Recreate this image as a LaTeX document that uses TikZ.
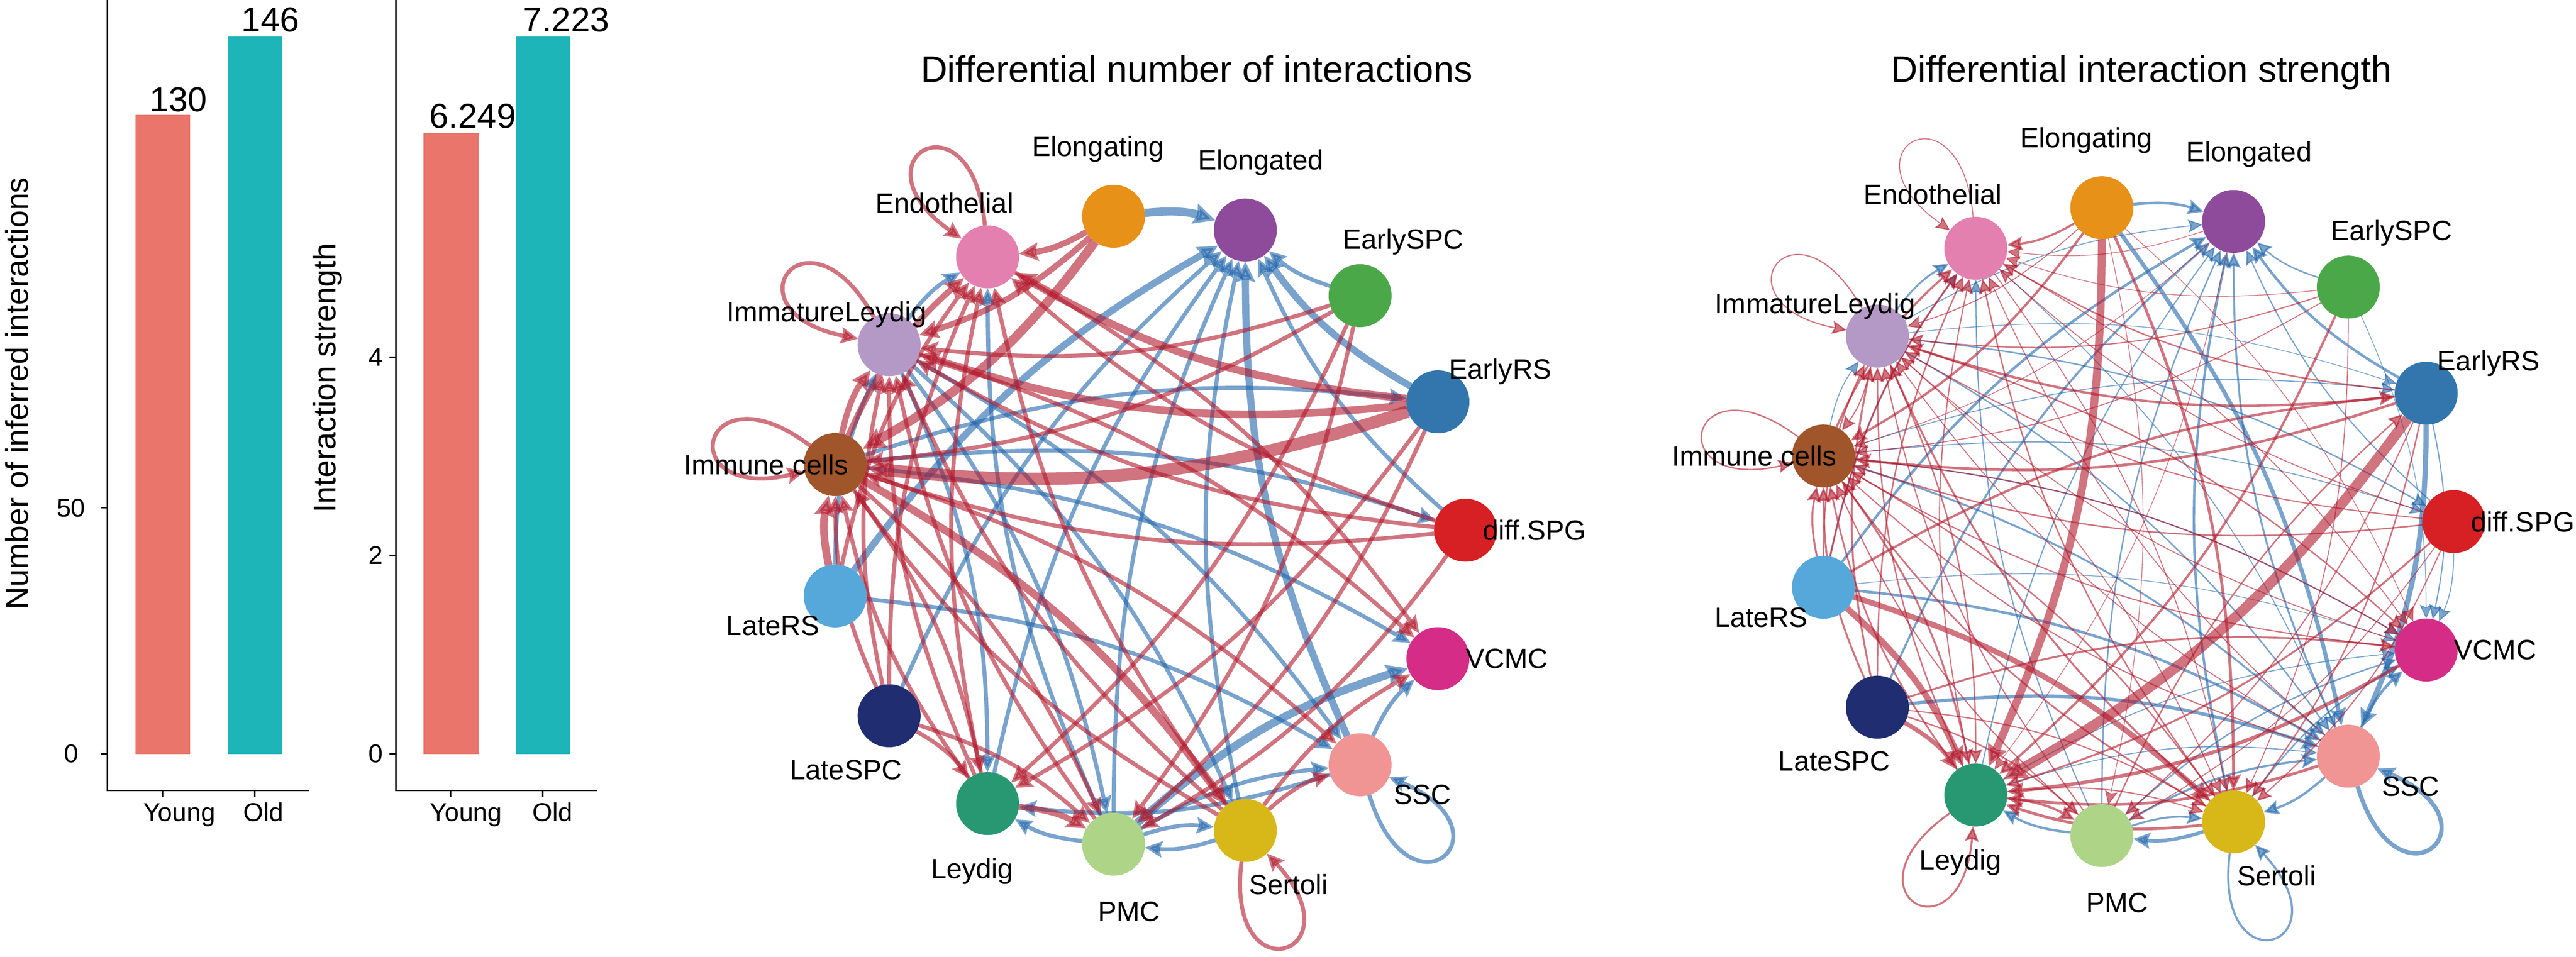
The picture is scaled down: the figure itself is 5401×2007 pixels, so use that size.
\documentclass[tikz,border=0pt]{standalone}
\usepackage{fontspec}
\setmainfont{Liberation Sans}
\usetikzlibrary{arrows.meta,calc}
\definecolor{cD}{HTML}{D72023}
\definecolor{cERS}{HTML}{3276AD}
\definecolor{cESPC}{HTML}{4BA848}
\definecolor{cEd}{HTML}{8F4B9B}
\definecolor{cEg}{HTML}{E89119}
\definecolor{cEn}{HTML}{E480AF}
\definecolor{cIL}{HTML}{B498C6}
\definecolor{cIm}{HTML}{A0552A}
\definecolor{cLRS}{HTML}{55A8D9}
\definecolor{cLSPC}{HTML}{202D70}
\definecolor{cLy}{HTML}{289873}
\definecolor{cPMC}{HTML}{AED488}
\definecolor{cSe}{HTML}{D8B819}
\definecolor{cSSC}{HTML}{F09494}
\definecolor{cVC}{HTML}{D52D87}
\definecolor{barY}{HTML}{EA756B}
\definecolor{barO}{HTML}{1EB5B9}
\definecolor{eR}{HTML}{B2182B}
\definecolor{eB}{HTML}{2166AC}
\pgfdeclarelayer{bg}
\pgfdeclarelayer{edges}
\pgfsetlayers{bg,edges,main}
\tikzset{
  vtx/.style={circle, draw=none, minimum size=26.4pt, inner sep=0pt, outer sep=0pt},
  lbl/.style={font=\fontsize{11.7}{14}\selectfont, inner sep=0pt},
  ttl/.style={font=\fontsize{15.5}{18}\selectfont, anchor=base, inner sep=0pt},
  ticklbl/.style={font=\fontsize{10.8}{13}\selectfont, inner sep=0pt},
  vallbl/.style={font=\fontsize{14.5}{17}\selectfont, inner sep=0pt, anchor=base},
  axttl/.style={font=\fontsize{13.2}{16}\selectfont, inner sep=0pt, rotate=90},
  axisline/.style={line width=0.55pt, black},
  tip/.style={-{Stealth[length=5.5pt 1, width=5pt 1, inset=1pt]}},
  redge/.style={draw=eR, opacity=0.6, bend left=12, tip},
  bedge/.style={draw=eB, opacity=0.6, bend left=12, tip},
  rloop/.style={draw=eR, opacity=0.6, tip},
  bloop/.style={draw=eB, opacity=0.6, tip}
}
\newcommand\redE[3]{\draw[redge, line width=#3pt] (#1) to (#2);}
\newcommand\bluE[3]{\draw[bedge, line width=#3pt] (#1) to (#2);}
\newcommand\redL[4]{\draw[rloop, line width=#2pt] (#1.#3) .. controls +(#3:290) and +(#4:290) .. (#1.#4);}
\newcommand\bluL[4]{\draw[bloop, line width=#2pt] (#1.#3) .. controls +(#3:290) and +(#4:290) .. (#1.#4);}
\begin{document}
\begin{tikzpicture}[x=0.2pt,y=0.2pt]
\useasboundingbox (0,0) rectangle (5401,2007);
\begin{pgfonlayer}{bg}
\fill[white] (0,0) rectangle (5401,2007);
\end{pgfonlayer}

% ---------------- bar chart 1 ----------------
\fill[barY] (284,426) rectangle (399,1766);
\fill[barO] (477,426) rectangle (592,1930);
\draw[axisline] (225,2007) -- (225,349) -- (648,349);
\draw[axisline] (212,426) -- (225,426);
\draw[axisline] (212,942) -- (225,942);
\draw[axisline] (341,349) -- (341,336);
\draw[axisline] (534,349) -- (534,336);
\node[ticklbl] (y10) at (149,426) {0};
\node[ticklbl] (y150) at (149,942) {50};
\node[ticklbl, anchor=base] (x1y) at (376,285) {Young};
\node[ticklbl, anchor=base] (x1o) at (552,285) {Old};
\node[vallbl] (v1y) at (374,1773) {130};
\node[vallbl] (v1o) at (567,1940) {146};
\node[axttl] (yt1) at (35,1182) {Number of inferred interactions};

% ---------------- bar chart 2 ----------------
\fill[barY] (888,426) rectangle (1004,1728);
\fill[barO] (1081,426) rectangle (1196,1930);
\draw[axisline] (830,2007) -- (830,349) -- (1252,349);
\draw[axisline] (817,426) -- (830,426);
\draw[axisline] (817,842) -- (830,842);
\draw[axisline] (817,1258) -- (830,1258);
\draw[axisline] (945,349) -- (945,336);
\draw[axisline] (1138,349) -- (1138,336);
\node[ticklbl] (y20) at (788,426) {0};
\node[ticklbl] (y22) at (788,842) {2};
\node[ticklbl] (y24) at (788,1258) {4};
\node[ticklbl, anchor=base] (x2y) at (977,285) {Young};
\node[ticklbl, anchor=base] (x2o) at (1158,285) {Old};
\node[vallbl] (v2y) at (991,1738) {6.249};
\node[vallbl] (v2o) at (1187,1940) {7.223};
\node[axttl] (yt2) at (687,1214) {Interaction strength};

% ---------------- titles ----------------
\node[ttl] (t1) at (2509,1835) {Differential number of interactions};
\node[ttl] (t2) at (4490,1835) {Differential interaction strength};

% ---------------- vertices ----------------
\foreach \i/\c in {0/cD,1/cERS,2/cESPC,3/cEd,4/cEg,5/cEn,6/cIL,7/cIm,8/cLRS,9/cLSPC,10/cLy,11/cPMC,12/cSe,13/cSSC,14/cVC}{
  \node[vtx, fill=\c] (a\i) at ($(2404.6,895)+({24*\i}:668 and 662)$) {};
  \node[vtx, fill=\c] (b\i) at ($(4476.6,913)+({24*\i}:668 and 662)$) {};
}

% ---------------- edges ----------------
\begin{pgfonlayer}{edges}
% ===== network 1 : blue =====
\bluE{a4}{a3}{3.4}
\bluE{a8}{a3}{2.9}
\bluE{a1}{a3}{2.9}
\bluE{a2}{a3}{1.7}
\bluE{a0}{a3}{1.7}
\bluE{a13}{a3}{3.0}
\bluE{a12}{a3}{1.7}
\bluE{a11}{a3}{1.7}
\bluE{a10}{a3}{1.7}
\bluE{a9}{a3}{1.7}
\bluE{a7}{a1}{1.7}
\bluE{a7}{a0}{1.7}
\bluE{a7}{a14}{1.7}
\bluE{a8}{a13}{1.7}
\bluE{a6}{a13}{1.7}
\bluE{a6}{a11}{1.7}
\bluE{a6}{a12}{1.7}
\bluE{a11}{a5}{1.7}
\bluE{a8}{a6}{1.7}
\bluE{a6}{a5}{1.7}
\bluE{a11}{a10}{1.7}
\bluE{a13}{a10}{1.7}
\bluE{a11}{a14}{3.4}
\bluE{a11}{a13}{1.7}
\bluE{a11}{a12}{1.7}
\bluE{a12}{a11}{1.7}
\bluE{a13}{a14}{1.7}
\bluE{a6}{a10}{1.7}
\bluL{a13}{1.7}{287}{337}
% ===== network 1 : red =====
\redL{a5}{1.7}{95}{145}
\redL{a6}{1.7}{119}{169}
\redL{a7}{1.7}{143}{193}
\redL{a12}{1.7}{263}{313}
\redE{a4}{a5}{2.5}
\redE{a4}{a6}{2.5}
\redE{a4}{a7}{3.8}
\redE{a1}{a5}{3.2}
\redE{a1}{a6}{3.2}
\redE{a1}{a7}{5.2}
\redE{a2}{a6}{1.7}
\redE{a2}{a7}{1.7}
\redE{a2}{a10}{1.7}
\redE{a2}{a11}{1.7}
\redE{a1}{a10}{1.7}
\redE{a1}{a11}{1.7}
\redE{a0}{a6}{1.7}
\redE{a0}{a7}{1.7}
\redE{a0}{a5}{1.7}
\redE{a0}{a11}{1.7}
\redE{a5}{a14}{1.7}
\redE{a6}{a14}{1.7}
\redE{a7}{a13}{1.7}
\redE{a7}{a12}{3.2}
\redE{a7}{a11}{1.7}
\redE{a7}{a10}{1.7}
\redE{a7}{a6}{2.5}
\redE{a7}{a5}{2.5}
\redE{a8}{a7}{3.2}
\redE{a8}{a5}{1.7}
\redE{a9}{a7}{1.7}
\redE{a9}{a6}{1.7}
\redE{a9}{a5}{1.7}
\redE{a9}{a10}{1.7}
\redE{a9}{a11}{1.7}
\redE{a10}{a7}{1.7}
\redE{a10}{a6}{1.7}
\redE{a10}{a5}{1.7}
\redE{a10}{a11}{2.5}
\redE{a11}{a6}{1.7}
\redE{a12}{a7}{1.7}
\redE{a12}{a6}{1.7}
\redE{a12}{a5}{1.7}
\redE{a12}{a13}{1.7}
\redE{a12}{a14}{1.7}

% ===== network 2 : blue =====
\bluE{b4}{b3}{1.1}
\bluE{b4}{b13}{1.7}
\bluE{b1}{b13}{2.2}
\bluE{b1}{b3}{1.1}
\bluE{b2}{b3}{0.6}
\bluE{b0}{b3}{0.5}
\bluE{b13}{b3}{0.8}
\bluE{b12}{b3}{1.0}
\bluE{b11}{b3}{0.6}
\bluE{b10}{b3}{0.5}
\bluE{b9}{b3}{0.9}
\bluE{b8}{b3}{1.1}
\bluE{b6}{b3}{0.4}
\bluE{b0}{b14}{0.4}
\bluE{b1}{b14}{0.5}
\bluE{b2}{b14}{0.3}
\bluE{b13}{b14}{1.2}
\bluE{b11}{b14}{0.6}
\bluE{b12}{b14}{0.6}
\bluE{b9}{b13}{1.4}
\bluE{b8}{b13}{1.1}
\bluE{b7}{b13}{0.8}
\bluE{b6}{b13}{0.6}
\bluE{b5}{b13}{0.4}
\bluE{b10}{b13}{0.4}
\bluE{b11}{b13}{0.9}
\bluE{b11}{b10}{1.0}
\bluE{b12}{b11}{1.5}
\bluE{b11}{b12}{0.8}
\bluE{b13}{b12}{1.0}
\bluE{b7}{b6}{0.4}
\bluE{b6}{b5}{0.8}
\bluE{b11}{b5}{0.5}
\bluE{b8}{b5}{0.4}
\bluE{b7}{b1}{0.4}
\bluE{b7}{b0}{0.4}
\bluE{b7}{b14}{0.5}
\bluE{b6}{b1}{0.3}
\bluE{b6}{b0}{0.6}
\bluE{b10}{b14}{0.4}
\bluE{b8}{b14}{0.3}
\bluL{b13}{1.8}{287}{337}
\bluL{b12}{0.9}{263}{313}
% ===== network 2 : red =====
\redL{b5}{0.4}{95}{145}
\redL{b6}{0.5}{119}{169}
\redL{b7}{0.6}{143}{193}
\redL{b10}{0.8}{215}{265}
\redE{b4}{b10}{3.3}
\redE{b1}{b10}{4.3}
\redE{b8}{b10}{2.6}
\redE{b8}{b12}{2.3}
\redE{b4}{b12}{1.2}
\redE{b4}{b5}{0.9}
\redE{b4}{b7}{1.0}
\redE{b4}{b6}{0.4}
\redE{b1}{b6}{1.0}
\redE{b1}{b7}{1.1}
\redE{b1}{b5}{0.6}
\redE{b8}{b1}{1.0}
\redE{b11}{b1}{0.6}
\redE{b14}{b10}{1.5}
\redE{b13}{b10}{1.2}
\redE{b12}{b10}{1.2}
\redE{b10}{b11}{1.0}
\redE{b9}{b10}{1.8}
\redE{b7}{b10}{0.8}
\redE{b6}{b10}{0.6}
\redE{b2}{b10}{1.0}
\redE{b0}{b10}{0.8}
\redE{b9}{b11}{0.6}
\redE{b9}{b12}{0.5}
\redE{b10}{b12}{0.5}
\redE{b7}{b12}{0.6}
\redE{b6}{b12}{0.4}
\redE{b5}{b12}{0.4}
\redE{b2}{b12}{0.4}
\redE{b0}{b12}{0.5}
\redE{b1}{b12}{0.6}
\redE{b9}{b14}{0.8}
\redE{b7}{b14}{0.5}
\redE{b6}{b14}{0.6}
\redE{b5}{b14}{0.4}
\redE{b4}{b14}{0.3}
\redE{b14}{b7}{0.5}
\redE{b14}{b6}{0.4}
\redE{b13}{b7}{0.5}
\redE{b13}{b6}{0.4}
\redE{b13}{b5}{0.4}
\redE{b12}{b7}{0.7}
\redE{b12}{b6}{0.8}
\redE{b12}{b5}{0.6}
\redE{b11}{b7}{0.5}
\redE{b11}{b6}{0.5}
\redE{b10}{b7}{0.7}
\redE{b10}{b6}{0.6}
\redE{b10}{b5}{0.5}
\redE{b9}{b7}{0.8}
\redE{b9}{b6}{0.8}
\redE{b9}{b5}{0.6}
\redE{b8}{b7}{0.8}
\redE{b8}{b6}{0.6}
\redE{b8}{b5}{0.8}
\redE{b7}{b5}{0.9}
\redE{b6}{b7}{0.5}
\redE{b0}{b7}{0.6}
\redE{b0}{b6}{0.5}
\redE{b0}{b5}{0.4}
\redE{b2}{b6}{0.5}
\redE{b2}{b7}{0.4}
\redE{b2}{b5}{0.3}
\redE{b3}{b5}{0.3}
\redE{b3}{b7}{0.3}
\redE{b3}{b10}{0.3}
\redE{b0}{b11}{0.4}
\redE{b1}{b11}{0.5}
\redE{b4}{b11}{0.3}
\end{pgfonlayer}

% ---------------- labels ----------------
\foreach \i/\t in {0/diff.SPG,1/EarlyRS,2/EarlySPC,3/Elongated,4/Elongating,5/Endothelial,6/ImmatureLeydig,7/Immune cells,8/LateRS,9/LateSPC,10/Leydig,11/PMC,12/Sertoli,13/SSC,14/VCMC}{
  \node[lbl] (la\i) at ($(a\i)+({360/14*\i}:145)$) {\t};
  \node[lbl] (lb\i) at ($(b\i)+({360/14*\i}:145)$) {\t};
}
\end{tikzpicture}
\end{document}
